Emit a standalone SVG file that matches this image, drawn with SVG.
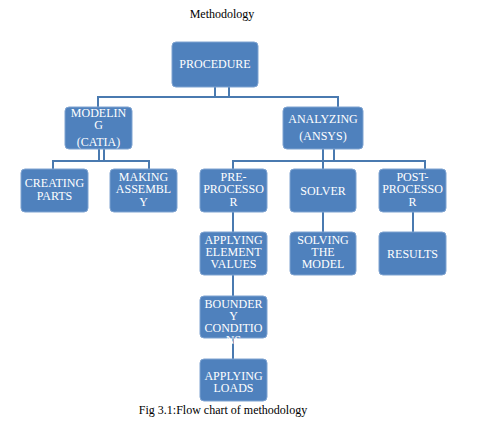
<svg xmlns="http://www.w3.org/2000/svg" width="482" height="423" viewBox="0 0 482 423">
<style>
.box{fill:#4f81bd;stroke:#7fa3d1;stroke-width:1}
.t{font-family:"Liberation Serif","Times New Roman",serif;font-size:12px;fill:#fff;text-anchor:middle}
.cap{font-family:"Liberation Serif","Times New Roman",serif;font-size:12px;fill:#000;text-anchor:middle}
.c{stroke:#4a7ab0;stroke-width:2;fill:none}
</style>
<rect width="482" height="423" fill="#fff"/>
<text class="cap" x="222" y="18">Methodology</text>
<g id="connectors">
<path class="c" d="M215,87V97M229,87V97M98,97H338M98,96V107M338,96V107"/>
<path class="c" d="M99,149V161M104,149V161M53,161H149M53,160V169M149,160V169"/>
<path class="c" d="M323,149V161M334,149V161M233,161H425M233,160V169M323,160V169M425,160V169"/>
<path class="c" d="M233,212V232M323,212V232M413,212V232"/>
<path class="c" d="M233,275V296M233,338V359"/>
</g>
<g id="procedure"><rect class="box" x="172" y="42" width="86" height="45" rx="4"/><text class="t" x="215" y="68">PROCEDURE</text></g>
<g id="modeling"><rect class="box" x="65" y="107" width="67" height="42" rx="4"/><text class="t" x="98.5" y="117">MODELIN</text><text class="t" x="98.5" y="129">G</text><text class="t" x="98.5" y="146">(CATIA)</text></g>
<g id="analyzing"><rect class="box" x="283" y="107" width="80" height="42" rx="4"/><text class="t" x="323" y="123">ANALYZING</text><text class="t" x="323" y="140">(ANSYS)</text></g>
<g id="creating"><rect class="box" x="21" y="169" width="67" height="43" rx="4"/><text class="t" x="54.5" y="187">CREATING</text><text class="t" x="54.5" y="200">PARTS</text></g>
<g id="assembly"><rect class="box" x="110" y="169" width="67" height="43" rx="4"/><text class="t" x="143.5" y="181">MAKING</text><text class="t" x="143.5" y="193">ASSEMBL</text><text class="t" x="143.5" y="206">Y</text></g>
<g id="preprocessor"><rect class="box" x="200" y="169" width="67" height="43" rx="4"/><text class="t" x="233.5" y="181">PRE-</text><text class="t" x="233.5" y="193">PROCESSO</text><text class="t" x="233.5" y="206">R</text></g>
<g id="solver"><rect class="box" x="290" y="169" width="66" height="43" rx="4"/><text class="t" x="323" y="195">SOLVER</text></g>
<g id="postprocessor"><rect class="box" x="379" y="169" width="67" height="43" rx="4"/><text class="t" x="412.5" y="181">POST-</text><text class="t" x="412.5" y="193">PROCESSO</text><text class="t" x="412.5" y="206">R</text></g>
<g id="element"><rect class="box" x="200" y="232" width="67" height="43" rx="4"/><text class="t" x="233.5" y="244">APPLYING</text><text class="t" x="233.5" y="256">ELEMENT</text><text class="t" x="233.5" y="268">VALUES</text></g>
<g id="solving"><rect class="box" x="290" y="232" width="66" height="43" rx="4"/><text class="t" x="323" y="244">SOLVING</text><text class="t" x="323" y="256">THE</text><text class="t" x="323" y="268">MODEL</text></g>
<g id="results"><rect class="box" x="379" y="232" width="67" height="43" rx="4"/><text class="t" x="412.5" y="258">RESULTS</text></g>
<g id="boundary"><rect class="box" x="200" y="296" width="67" height="42" rx="4"/><text class="t" x="233.5" y="308">BOUNDER</text><text class="t" x="233.5" y="320">Y</text><text class="t" x="233.5" y="332">CONDITIO</text><text class="t" x="233.5" y="344">NS</text></g>
<g id="loads"><rect class="box" x="200" y="359" width="67" height="42" rx="4"/><text class="t" x="233.5" y="380">APPLYING</text><text class="t" x="233.5" y="392">LOADS</text></g>
<text class="cap" x="223" y="414">Fig 3.1:Flow chart of methodology</text>
</svg>
